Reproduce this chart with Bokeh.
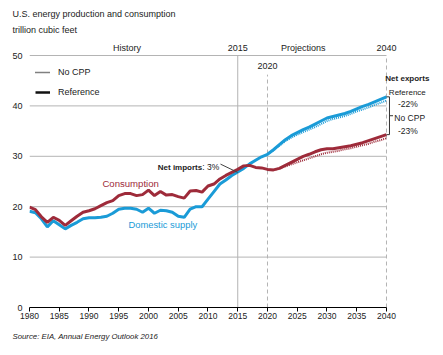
from bokeh.plotting import figure
from bokeh.models import Label, Legend, LegendItem, Range1d, FixedTicker, Title
from bokeh.embed import file_html
from bokeh.resources import INLINE

# ---------------- data (trillion cubic feet) ----------------
years = list(range(1980, 2041))
consumption = [19.9, 19.4, 18.0, 16.9, 17.9, 17.3, 16.3, 17.2, 18.1, 18.9,
               19.2, 19.6, 20.2, 20.8, 21.2, 22.2, 22.6, 22.6, 22.2, 22.4,
               23.3, 22.2, 23.0, 22.3, 22.4, 22.0, 21.7, 23.1, 23.2, 22.9,
               24.1, 24.5, 25.5, 26.2, 26.8, 27.4, 28.1, 28.2, 27.8, 27.7,
               27.4, 27.3, 27.6, 28.2, 28.8, 29.4, 30.0, 30.4, 30.9, 31.3,
               31.5, 31.5, 31.7, 31.9, 32.1, 32.4, 32.7, 33.1, 33.5, 33.9,
               34.3]
supply = [19.1, 18.8, 17.6, 16.0, 17.2, 16.4, 15.6, 16.3, 16.9, 17.6,
          17.8, 17.8, 17.9, 18.1, 18.7, 19.5, 19.7, 19.7, 19.5, 18.9,
          19.7, 18.7, 19.3, 19.2, 18.9, 18.1, 17.9, 19.5, 20.0, 20.0,
          21.5, 23.0, 24.5, 25.3, 26.2, 26.9, 27.6, 28.5, 29.2, 29.9,
          30.4, 31.3, 32.3, 33.3, 34.1, 34.7, 35.3, 35.8, 36.4, 37.0,
          37.6, 37.9, 38.2, 38.5, 38.9, 39.4, 39.9, 40.3, 40.8, 41.3,
          41.8]
nocpp_years = list(range(2020, 2041))
consumption_nocpp = [27.4, 27.3, 27.6, 28.0, 28.4, 28.8, 29.2, 29.6, 30.0, 30.4,
                     30.7, 30.9, 31.1, 31.4, 31.6, 31.9, 32.2, 32.5, 32.9, 33.2,
                     33.6]
supply_nocpp = [30.4, 31.2, 32.1, 33.0, 33.7, 34.3, 34.8, 35.3, 35.8, 36.4,
                37.0, 37.4, 37.7, 38.0, 38.4, 38.9, 39.3, 39.7, 40.2, 40.6,
                41.1]
x_ticks = list(range(1980, 2041, 5))
y_ticks = [0, 10, 20, 30, 40, 50]
grid_values = [10, 20, 30, 40, 50]
last_history_year = 2015
marker_year = 2020
end_year = 2040
net_imports_text = "3%"
net_exports_ref = "-22%"
net_exports_nocpp = "-23%"

# ---------------- styling ----------------
FONT = "'Liberation Sans', Arial, sans-serif"
RED = "#9e2b3a"
BLUE = "#1a9bd7"
GRID = "#b4b4b4"
TXT = "#222222"

p = figure(width=443, height=355, output_backend="svg", toolbar_location=None,
           x_range=Range1d(1980, 2049.58), y_range=Range1d(0, 53.77),
           min_border_left=29, min_border_right=0, min_border_top=36,
           min_border_bottom=48)
p.outline_line_color = None
p.background_fill_color = "white"
p.border_fill_color = "white"
p.xgrid.visible = False
p.ygrid.visible = False

# titles (above) and source (below)
t_unit = Title(text="trillion cubic feet", align="left", offset=-17, standoff=4,
               text_font=FONT, text_font_size="9px", text_font_style="normal",
               text_color=TXT)
t_main = Title(text="U.S. energy production and consumption", align="left",
               offset=-17, standoff=4, text_font=FONT, text_font_size="9px",
               text_font_style="normal", text_color=TXT)
p.add_layout(t_unit, "above")
p.add_layout(t_main, "above")

# axes
p.xaxis.ticker = FixedTicker(ticks=x_ticks)
p.xaxis.bounds = (1980, 2040)
p.xaxis.axis_line_color = "black"
p.xaxis.axis_line_width = 1
p.xaxis.major_tick_line_color = "black"
p.xaxis.major_tick_out = 4
p.xaxis.major_tick_in = 0
p.xaxis.minor_tick_line_color = None
p.xaxis.major_label_standoff = 1
p.xaxis.major_label_text_font = FONT
p.xaxis.major_label_text_font_size = "8.5px"
p.xaxis.major_label_text_color = TXT

p.yaxis.ticker = FixedTicker(ticks=y_ticks)
p.yaxis.axis_line_color = None
p.yaxis.major_tick_line_color = None
p.yaxis.minor_tick_line_color = None
p.yaxis.major_tick_out = 0
p.yaxis.major_label_standoff = 7
p.yaxis.major_label_text_font = FONT
p.yaxis.major_label_text_font_size = "9px"
p.yaxis.major_label_text_color = TXT

t_src = Title(text="Source:  EIA, Annual Energy Outlook 2016", align="left",
              offset=-17, standoff=16, text_font=FONT, text_font_size="7.8px",
              text_font_style="italic", text_color=TXT)
p.add_layout(t_src, "below")

# horizontal grid lines (only across the plotted period)
p.segment(x0=[1980] * len(grid_values), x1=[end_year] * len(grid_values),
          y0=grid_values, y1=grid_values, line_color=GRID, line_width=1)

# vertical reference lines
p.segment(x0=[last_history_year], x1=[last_history_year], y0=[0], y1=[50],
          line_color=GRID, line_width=1)
p.segment(x0=[marker_year], x1=[marker_year], y0=[0], y1=[46.2],
          line_color=GRID, line_width=1, line_dash="4 3")
p.segment(x0=[end_year], x1=[end_year], y0=[0], y1=[50],
          line_color=GRID, line_width=1, line_dash="4 3")

# data lines
p.line(nocpp_years, supply_nocpp, line_color=BLUE, line_width=2, line_dash="1 1")
p.line(nocpp_years, consumption_nocpp, line_color=RED, line_width=2, line_dash="1 1")
p.line(years, supply, line_color=BLUE, line_width=3)
p.line(years, consumption, line_color=RED, line_width=3)

# legend (proxy renderers with no visible data)
nan = float("nan")
r_dot = p.line([nan], [nan], line_color="#000000", line_width=1.3, line_dash="1 1")
r_sol = p.line([nan], [nan], line_color="#111111", line_width=2.5)
legend = Legend(items=[LegendItem(label="No CPP", renderers=[r_dot]),
                       LegendItem(label="Reference", renderers=[r_sol])],
                location=(6, 205), orientation="vertical",
                glyph_width=15, glyph_height=20, label_height=20, spacing=0,
                padding=0, margin=0, label_standoff=8,
                label_text_font=FONT, label_text_font_size="9px",
                label_text_color=TXT, background_fill_alpha=0,
                border_line_alpha=0)
p.add_layout(legend)


def lab(x, y, text, size="9px", align="center", color=TXT, style="normal",
        baseline="middle"):
    p.add_layout(Label(x=x, y=y, text=text, text_font=FONT, text_font_size=size,
                       text_align=align, text_baseline=baseline,
                       text_color=color, text_font_style=style))


lab(1996.4, 51.4, "History")
lab(2026.0, 51.5, "Projections")
lab(2015.0, 51.4, str(last_history_year))
lab(2040.0, 51.4, str(end_year))
lab(2020.0, 48.0, str(marker_year))

# series labels
lab(1997.0, 24.7, "Consumption", size="9.6px", color=RED)
lab(2002.4, 16.4, "Domestic supply", size="9.4px", color=BLUE)

# net imports annotation
lab(2009.03, 27.8, "Net imports", size="8px", align="right", style="bold")
lab(2009.03, 27.8, ": " + net_imports_text, size="8.5px", align="left")
p.segment(x0=[2012.1], x1=[2015.0], y0=[28.45], y1=[26.8],
          line_color="#444444", line_width=1)

# net exports bracket
top = supply[-1]
bot = consumption[-1]
mid = (top + bot) / 2
p.segment(x0=[2040.0, 2040.0, 2040.5, 2040.5],
          x1=[2040.5, 2040.5, 2040.5, 2041.1],
          y0=[top, bot, top, mid], y1=[top, bot, bot, mid],
          line_color="#333333", line_width=1)
lab(2043.5, 45.4, "Net exports", size="8px", style="bold")
lab(2043.5, 42.6, "Reference", size="8px")
lab(2043.6, 40.4, net_exports_ref, size="8.5px")
lab(2043.9, 37.6, "No CPP", size="8.5px")
lab(2043.6, 35.0, net_exports_nocpp, size="8.5px")

open("out.html", "w").write(file_html(p, INLINE))
